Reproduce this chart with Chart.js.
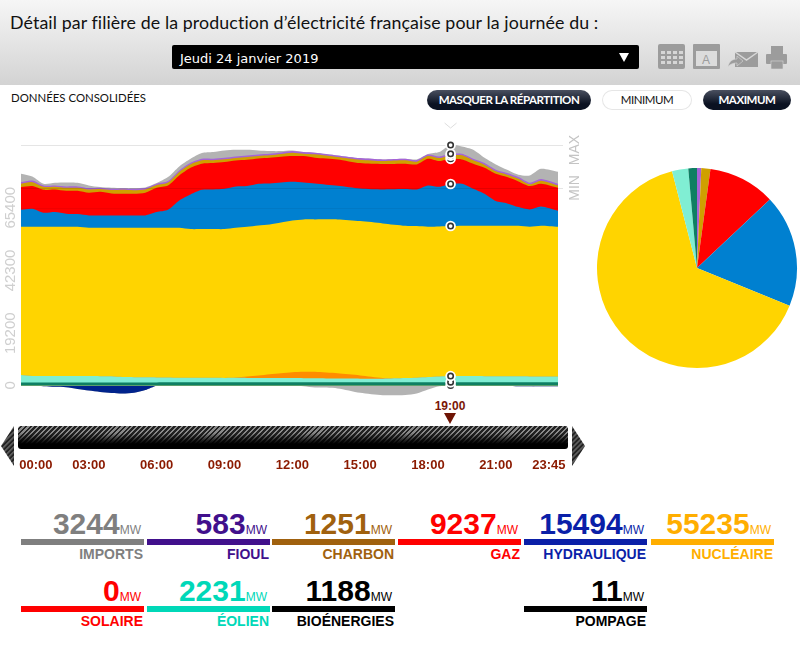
<!DOCTYPE html>
<html lang="fr"><head><meta charset="utf-8">
<script src="https://cdn.jsdelivr.net/npm/chart.js@4/dist/chart.umd.min.js"></script>
<style>
html,body{margin:0;padding:0;background:#fff;overflow:hidden;width:800px;height:653px;font-family:"Liberation Sans",Arial,sans-serif}
.abs{position:absolute}
#head{left:0;top:0;width:800px;height:85px;background:linear-gradient(#f6f6f6,#d3d3d3)}
#title{left:10px;top:11px;font:17.8px Lato;color:#111;white-space:nowrap;letter-spacing:.1px}
#sel{left:172px;top:45px;width:467px;height:24px;background:#000;border-radius:2px;color:#fff;font:13px "DejaVu Sans";line-height:27px;text-indent:8px}
#sel i{position:absolute;right:10px;top:8px;border-left:5px solid transparent;border-right:5px solid transparent;border-top:9px solid #fff}
#cons{left:11px;top:91px;font:11.4px Lato;color:#111;white-space:nowrap}
.btn{top:90px;height:20px;border-radius:10px;text-align:center;font:bold 11.5px/20px Lato;color:#fff;background:linear-gradient(#4a5060,#0b1222 70%);letter-spacing:-.45px;white-space:nowrap}
.btn.w{background:#fff;color:#111;font-weight:normal;box-shadow:inset 0 0 0 1px #e6e6e6}
#slider{left:18px;top:426px;width:550px;height:23px;border-radius:3px;background:linear-gradient(rgba(0,0,0,0) 30%,rgba(0,0,0,.75) 62%,#000 78%),repeating-linear-gradient(135deg,#8a8a8a 0 1.5px,#222 1.5px 3.5px)}
#now{left:420px;width:60px;top:399px;text-align:center;font:bold 12px "Liberation Sans";color:#7a1606}
#tri{left:444px;top:413px;border-left:6.5px solid transparent;border-right:6.5px solid transparent;border-top:11px solid #6e1404}
.num{font:bold 30px/30px "Liberation Sans";white-space:nowrap;text-align:right}
.num small{font:normal 12px "Liberation Sans";margin-left:0}
.lab{font:bold 14px/16px "Liberation Sans";white-space:nowrap;text-align:right}
canvas{display:block}
</style></head><body>
<div id="head" class="abs"></div>
<div id="title" class="abs">Détail par filière de la production d’électricité française pour la journée du :</div>
<div id="sel" class="abs">Jeudi 24 janvier 2019<i></i></div>
<svg class="abs" style="left:655px;top:40px" width="135" height="32" fill="#9c9c9c">
 <rect x="3" y="4" width="27" height="25" rx="2"/><g fill="#d6d6d6"><rect x="6" y="11" width="4" height="3"/><rect x="12" y="11" width="4" height="3"/><rect x="18" y="11" width="4" height="3"/><rect x="24" y="11" width="4" height="3"/><rect x="6" y="16" width="4" height="3"/><rect x="12" y="16" width="4" height="3"/><rect x="18" y="16" width="4" height="3"/><rect x="24" y="16" width="4" height="3"/><rect x="6" y="21" width="4" height="3"/><rect x="12" y="21" width="4" height="3"/><rect x="18" y="21" width="4" height="3"/><rect x="24" y="21" width="4" height="3"/></g>
 <rect x="38" y="4" width="27" height="25" rx="1"/><rect x="41" y="11" width="21" height="15" fill="#dcdcdc"/><text x="47" y="24" font-size="12" font-family="Liberation Sans" fill="#9c9c9c">A</text>
 <path d="M80 12h23v15H80z"/><path d="M80 12l11.5 8L103 12" fill="none" stroke="#d8d8d8" stroke-width="1.5"/><path d="M73 27c1-6 5-8 9-8v-3l6 5-6 5v-3c-4 0-7 1-9 4z" stroke="#d8d8d8" stroke-width=".6"/>
 <rect x="116" y="6" width="12" height="8"/><rect x="111" y="14" width="21" height="10" rx="1"/><rect x="116" y="21" width="12" height="8" stroke="#d8d8d8" stroke-width=".6"/>
</svg>
<div id="cons" class="abs">DONNÉES CONSOLIDÉES</div>
<div class="abs btn" style="left:427px;width:164px">MASQUER LA RÉPARTITION</div>
<div class="abs btn w" style="left:602px;width:90px">MINIMUM</div>
<div class="abs btn" style="left:703px;width:88px">MAXIMUM</div>
<svg class="abs" style="left:0;top:420px" width="600" height="50">
 <defs><pattern id="h" width="3.5" height="3.5" patternUnits="userSpaceOnUse" patternTransform="rotate(45)"><rect width="3.5" height="3.5" fill="#222"/><rect width="1.5" height="3.5" fill="#666"/></pattern></defs>
 <path d="M14 6L1 26l13 20z" fill="url(#h)"/><path d="M572 6l13 20-13 20z" fill="url(#h)"/>
</svg>
<div id="slider" class="abs"></div>
<div id="now" class="abs">19:00</div>
<div id="tri" class="abs"></div>
<div class="abs" style="left:0;top:120px;width:590px;height:350px"><canvas id="area" width="590" height="350"></canvas></div>
<div class="abs" style="left:594px;top:165px;width:206px;height:206px"><canvas id="pie" width="206" height="206"></canvas></div>
<div id="stats"></div>
<script>
const hours=[0,.5,1,1.5,2,2.5,3,3.5,4,4.5,5,5.5,6,6.5,7,7.5,8,8.5,9,9.5,10,10.5,11,11.5,12,12.5,13,14,15,16,17,17.5,18,18.5,19,19.5,20,20.5,21,21.5,22,22.5,23,23.75];
const bioenergies=[1100,1100,1100,1100,1100,1100,1100,1100,1100,1100,1100,1100,1100,1150,1150,1150,1150,1150,1150,1180,1180,1180,1180,1190,1190,1190,1190,1190,1190,1190,1190,1190,1190,1190,1188,1190,1190,1190,1190,1190,1190,1190,1190,1190];
const eolien=[2750,2400,2380,2370,2350,2340,2320,2300,2280,2000,1950,1900,1850,1750,1650,1650,1650,1650,1620,1600,1580,1560,1540,1520,1500,1480,1450,1350,1300,1270,1500,1650,1900,2100,2231,2240,2250,2200,2150,2150,2150,2130,2120,2100];
const solaire=[0,0,0,0,0,0,0,0,0,0,0,0,0,0,0,0,0,0,0,150,500,900,1400,1800,2200,2400,2350,1900,1200,300,0,0,0,0,0,0,0,0,0,0,0,0,0,0];
const nucleaire=[54540,54890,54910,54920,54940,54950,54600,54620,54640,54920,54970,55020,55070,55120,55220,54730,54730,54730,54760,55090,55130,55240,55130,55470,55830,56020,56100,56650,56780,56860,56070,55790,55300,55220,55235,55330,55320,55370,55420,55420,55420,55070,55450,55100];
const hydraulique=[6260,6620,5150,5400,4780,4660,4540,4540,4540,4540,4540,4540,5770,6620,10060,12760,14480,14600,14840,15210,14970,15330,15090,14720,14230,13620,13250,12390,12020,12510,13490,13490,15210,14600,15494,15460,13620,11780,9080,8220,6870,6380,7120,5890];
const gaz=[8340,8340,8460,8340,8460,8590,8340,8710,8100,7970,7970,8340,8950,8950,9200,9810,9570,9690,9810,9570,9690,9320,9450,9450,9450,9690,9450,9690,9320,9320,9320,9200,9810,9450,9237,8950,9200,9570,10060,9690,9450,8590,8340,8460];
const charbon=[1250,1450,1100,1020,1120,1110,1220,1000,1230,1450,1340,1220,1000,1110,1300,1290,1280,1040,1040,920,1030,910,905,1030,1270,900,1270,910,1280,1160,1280,1030,1020,1140,1251,1500,1260,1140,900,900,1020,670,1140,900];
const fioul=[590,630,500,450,480,490,500,470,490,510,500,500,470,490,540,550,560,555,560,550,565,560,565,565,570,570,570,560,560,560,560,565,575,577,583,585,580,577,570,570,575,557,577,570];
const imports=[3070,1470,610,980,1470,1350,980,245,370,120,245,245,245,1470,1470,1470,2085,2450,2700,2450,2085,1470,980,490,245,0,0,0,0,0,0,245,120,1590,3244,2700,3310,1960,1960,1230,860,2700,3800,4420];
const pompage=[-11,-11,-300,-500,-700,-1300,-1900,-2400,-2800,-3000,-2700,-1700,-120,-11,-11,-11,-11,-11,-11,-11,-11,-11,-11,-11,-11,-11,-11,-11,-11,-11,-11,-11,-11,-11,-11,-11,-11,-11,-11,-100,-300,-350,-350,-350];
const exportsMW=[-1,-1,-1,-1,-1,-1,-1,-1,-1,-1,-1,-1,-1,-1,-1,-1,-1,-1,-1,-1,-1,-1,-1,-1,-1,-300,-800,-1100,-2700,-3600,-3500,-3000,-1500,-300,-1,-1,-1,-1,-1,-1,-1,-1,-1,-1];

const seriesNames=["Bioénergies","Éolien","Solaire","Nucléaire","Hydraulique","Gaz","Charbon","Fioul","Imports","Pompage","Exports"];
const seriesValues=[bioenergies,eolien,solaire,nucleaire,hydraulique,gaz,charbon,fioul,imports,pompage,exportsMW];
const seriesColors=["#0e7f63","#80eed3","#ff8c00","#ffd400","#0080d0","#ff0000","#cfa000","#a564d8","#b3b3b3","#00238c","#b3b3b3"];

const yTicks=[0,19200,42300,65400];
const yMin=-5000,yMax=94000;
const maxLine=88463,minLine=72700;
const xTickHours=[0.66,3,6,9,12,15,18,21,23.35];
const xTickLabels=["00:00","03:00","06:00","09:00","12:00","15:00","18:00","21:00","23:45"];
const cursorHour=19;

const pieNames=["Fioul","Charbon","Gaz","Hydraulique","Nucléaire","Solaire","Éolien","Bioénergies"];
const pieValues=[583,1251,9237,15494,55235,0,2231,1188];
const pieColors=["#a564d8","#cfa000","#ff0000","#0080d0","#ffd400","#ff8c00","#80eed3","#0e7f63"];

const statNames=["IMPORTS","FIOUL","CHARBON","GAZ","HYDRAULIQUE","NUCLÉAIRE","SOLAIRE","ÉOLIEN","BIOÉNERGIES","POMPAGE"];
const statValues=[3244,583,1251,9237,15494,55235,0,2231,1188,11];
const statColors=["#7f7f7f","#41108c","#a0610e","#ff0000","#0a1fa8","#ffae00","#ff0000","#00d8b8","#000000","#000000"];
const statCells=[[21,0],[147,0],[272,0],[398,0],[524,0],[651,0],[21,1],[147,1],[272,1],[524,1]];

const box=document.getElementById('stats');
statNames.forEach((n,i)=>{
  const [x,r]=statCells[i],c=statColors[i],w=123,dy=r*67;
  box.insertAdjacentHTML('beforeend',
   `<div class="abs num" style="left:${x}px;width:${w-3}px;top:${509+dy}px;color:${c}">${statValues[i]}<small>MW</small></div>`+
   `<div class="abs" style="left:${x}px;width:${w}px;top:${539+dy}px;height:5.5px;background:${c}"></div>`+
   `<div class="abs lab" style="left:${x}px;width:${w-1}px;top:${546+dy}px;color:${c}">${n}</div>`);
});

const overlay={id:'overlay',
 afterDatasetsDraw(chart){
  const {ctx,scales:{x,y},chartArea:a}=chart;
  ctx.save();
  const hl=(v,col,r)=>{const p=Math.round(y.getPixelForValue(v))+.5;ctx.strokeStyle=col;ctx.lineWidth=1;ctx.beginPath();ctx.moveTo(a.left,p);ctx.lineTo(r,p);ctx.stroke();};
  hl(maxLine,'rgba(0,0,0,.1)',a.right+5);
  hl(minLine,'rgba(0,0,0,.1)',a.right+5);
  hl(65400,'rgba(0,0,0,.05)',a.right);
  ctx.fillStyle='#c4c4c4';ctx.font='14px "Liberation Sans"';ctx.textAlign='center';ctx.textBaseline='middle';
  const vt=(s,v,off)=>{ctx.save();ctx.translate(a.right+17,y.getPixelForValue(v)+off);ctx.rotate(-Math.PI/2);ctx.fillText(s,0,0);ctx.restore();};
  vt('MAX',maxLine,5);vt('MIN',minLine,0);
  const idx=hours.indexOf(cursorHour);
  const px=x.getPixelForValue(cursorHour);
  ctx.strokeStyle='#ddd';ctx.lineWidth=1;ctx.beginPath();ctx.moveTo(px-6,y.getPixelForValue(yMax)-7);ctx.lineTo(px,y.getPixelForValue(yMax)-2);ctx.lineTo(px+6,y.getPixelForValue(yMax)-7);ctx.stroke();
  [9,0,1,5,6,7,8,4,3].forEach(d=>{
   const pt=chart.getDatasetMeta(d).data[idx];
   ctx.fillStyle='#fff';ctx.beginPath();ctx.arc(pt.x,pt.y,5.3,0,7);ctx.fill();
   ctx.strokeStyle='#333';ctx.lineWidth=1.6;ctx.beginPath();ctx.arc(pt.x,pt.y,2.7,0,7);ctx.stroke();
  });
  ctx.restore();
 }};
const noPad=s=>{s.paddingLeft=0;s.paddingRight=0;s.paddingTop=0;s.paddingBottom=0;};

new Chart(document.getElementById('area'),{
 type:'line',
 data:{datasets:seriesNames.map((n,i)=>({label:n,data:hours.map((h,k)=>({x:h,y:seriesValues[i][k]})),backgroundColor:seriesColors[i],borderColor:seriesColors[i],borderWidth:0,pointRadius:0,fill:'origin',tension:.25}))},
 options:{responsive:false,animation:false,devicePixelRatio:1,
  layout:{padding:{top:10,right:32,left:0,bottom:0}},
  plugins:{legend:{display:false},tooltip:{enabled:false}},
  scales:{
   x:{type:'linear',min:0,max:hours[hours.length-1],grid:{display:false},border:{display:false},
    afterBuildTicks:s=>{s.ticks=xTickHours.map(v=>({value:v}));},
    afterFit:s=>{s.height=71;noPad(s);},
    ticks:{autoSkip:false,maxRotation:0,minRotation:0,padding:51,color:'#8b1a00',font:{family:'"Liberation Sans"',weight:'bold',size:13},callback:(v)=>xTickLabels[xTickHours.indexOf(v)]}},
   y:{stacked:true,min:yMin,max:yMax,grid:{display:false},border:{display:false},
    afterBuildTicks:s=>{s.ticks=yTicks.map(v=>({value:v}));},
    afterFit:s=>{s.width=21;noPad(s);},
    ticks:{minRotation:90,maxRotation:90,crossAlign:'center',padding:-19,color:'#cfcfcf',font:{family:'"Liberation Sans"',size:15},callback:v=>String(v)}}
  }},
 plugins:[overlay]
});

new Chart(document.getElementById('pie'),{
 type:'pie',
 data:{labels:pieNames,datasets:[{data:pieValues,backgroundColor:pieColors,borderWidth:0,radius:100}]},
 options:{responsive:false,animation:false,devicePixelRatio:1,plugins:{legend:{display:false},tooltip:{enabled:false}}}
});
</script>
</body></html>
